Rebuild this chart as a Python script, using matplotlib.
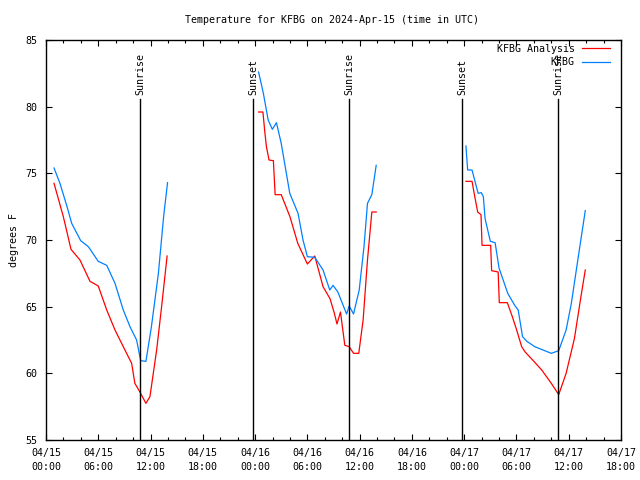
import matplotlib
matplotlib.use("Agg")
import matplotlib.pyplot as plt
from matplotlib.ticker import MultipleLocator

# Hours since 2024-04-15 00:00 UTC, temperatures in degrees F.
obs_hours_1 = [0.92, 1.6, 2.37, 2.95, 3.98, 4.86, 6.0, 6.97, 7.92, 8.87, 9.64, 10.4, 10.87, 11.47, 12.1, 12.9, 13.5, 13.95]
obs_temp_1 = [75.4, 74.25, 72.6, 71.25, 69.95, 69.5, 68.4, 68.1, 66.75, 64.75, 63.5, 62.5, 60.95, 60.9, 63.5, 67.5, 71.75, 74.3]
obs_hours_2 = [24.4, 24.95, 25.5, 25.98, 26.45, 27.0, 27.98, 28.93, 29.5, 30.0, 30.85, 31.8, 32.57, 32.95, 33.5, 34.5, 34.8, 35.3, 35.95, 36.5, 36.9, 37.4, 37.9]
obs_temp_2 = [82.6, 81.0, 79.0, 78.3, 78.8, 77.25, 73.5, 72.0, 70.0, 68.75, 68.7, 67.75, 66.25, 66.6, 66.1, 64.45, 65.05, 64.45, 66.25, 69.5, 72.75, 73.4, 75.6]
obs_hours_3 = [48.2, 48.4, 48.9, 49.6, 49.97, 50.2, 50.4, 51.0, 51.55, 52.0, 53.0, 53.8, 54.2, 54.7, 55.2, 56.1, 58.0, 58.85, 59.7, 60.3, 61.1, 61.9]
obs_temp_3 = [77.05, 75.25, 75.25, 73.5, 73.55, 73.25, 71.6, 69.9, 69.8, 67.9, 66.0, 65.1, 64.75, 62.75, 62.4, 62.0, 61.5, 61.7, 63.25, 65.25, 68.75, 72.2]

ana_hours_1 = [0.92, 1.99, 2.87, 3.9, 5.05, 6.0, 6.97, 7.92, 9.06, 9.83, 10.2, 10.78, 11.47, 11.93, 12.7, 13.27, 13.9]
ana_temp_1 = [74.25, 71.75, 69.3, 68.5, 66.9, 66.55, 64.75, 63.25, 61.75, 60.75, 59.25, 58.6, 57.75, 58.25, 61.75, 65.0, 68.8]
ana_hours_2 = [24.4, 24.9, 25.1, 25.3, 25.6, 26.1, 26.3, 27.0, 28.0, 28.9, 30.0, 30.85, 31.8, 32.6, 33.1, 33.4, 33.8, 34.3, 34.8, 35.3, 35.9, 36.4, 36.9, 37.4, 37.9]
ana_temp_2 = [79.6, 79.6, 78.2, 77.0, 76.0, 75.95, 73.4, 73.4, 71.75, 69.75, 68.2, 68.8, 66.5, 65.6, 64.5, 63.7, 64.6, 62.1, 62.0, 61.5, 61.5, 64.0, 68.5, 72.1, 72.1]
ana_hours_3 = [48.2, 48.9, 49.2, 49.55, 49.93, 50.05, 51.04, 51.15, 51.9, 52.03, 52.95, 53.5, 54.0, 54.6, 55.0, 56.0, 56.9, 58.0, 58.85, 59.7, 60.65, 61.4, 61.9]
ana_temp_3 = [74.4, 74.4, 73.3, 72.1, 71.9, 69.6, 69.6, 67.7, 67.6, 65.3, 65.3, 64.3, 63.3, 62.0, 61.6, 60.9, 60.25, 59.25, 58.4, 60.0, 62.6, 65.75, 67.75]

event_hours = [10.79, 23.8, 34.81, 47.78, 58.8]
event_names = ["Sunrise", "Sunset", "Sunrise", "Sunset", "Sunrise"]

tick_hours = [0, 6, 12, 18, 24, 30, 36, 42, 48, 54, 60, 66]
tick_labels = ["04/15\n00:00", "04/15\n06:00", "04/15\n12:00", "04/15\n18:00",
               "04/16\n00:00", "04/16\n06:00", "04/16\n12:00", "04/16\n18:00",
               "04/17\n00:00", "04/17\n06:00", "04/17\n12:00", "04/17\n18:00"]

plt.rcParams["font.family"] = "DejaVu Sans Mono"
plt.rcParams["font.size"] = 7.2

fig = plt.figure(figsize=(6.4, 4.8), dpi=100)
ax = fig.add_axes([46 / 640, 40 / 480, 575 / 640, 400 / 480])

red = "#ff0000"
blue = "#0080ff"
lw = 0.9
ax.plot(ana_hours_1, ana_temp_1, color=red, lw=lw, label="KFBG Analysis")
ax.plot(ana_hours_2, ana_temp_2, color=red, lw=lw)
ax.plot(ana_hours_3, ana_temp_3, color=red, lw=lw)
ax.plot(obs_hours_1, obs_temp_1, color=blue, lw=lw, label="KFBG")
ax.plot(obs_hours_2, obs_temp_2, color=blue, lw=lw)
ax.plot(obs_hours_3, obs_temp_3, color=blue, lw=lw)

for h, name in zip(event_hours, event_names):
    ax.axvline(h, ymin=0, ymax=0.8525, color="black", lw=1.0)
    ax.text(h, 0.862, name, transform=ax.get_xaxis_transform(), rotation=90,
            ha="center", va="bottom")

ax.set_xlim(0, 66)
ax.set_ylim(55, 85)
ax.set_xticks(tick_hours)
ax.set_xticklabels(tick_labels, linespacing=1.5)
ax.xaxis.set_minor_locator(MultipleLocator(2))
ax.yaxis.set_major_locator(MultipleLocator(5))
ax.tick_params(which="both", direction="in", top=True, right=True, width=0.8)
ax.tick_params(which="major", length=4.5, pad=6)
ax.tick_params(which="minor", length=2.5)
for s in ax.spines.values():
    s.set_linewidth(1.0)

ax.set_ylabel("degrees F", labelpad=5)
fig.text(332 / 640, 1 - 20 / 480, "Temperature for KFBG on 2024-Apr-15 (time in UTC)",
         ha="center", va="center")

ax.legend(loc="upper right", bbox_to_anchor=(0.984, 0.995), frameon=False,
          markerfirst=False, handlelength=2.8, handletextpad=0.7,
          borderaxespad=0, borderpad=0.2, labelspacing=0.35)

fig.savefig("out.png", dpi=100)
